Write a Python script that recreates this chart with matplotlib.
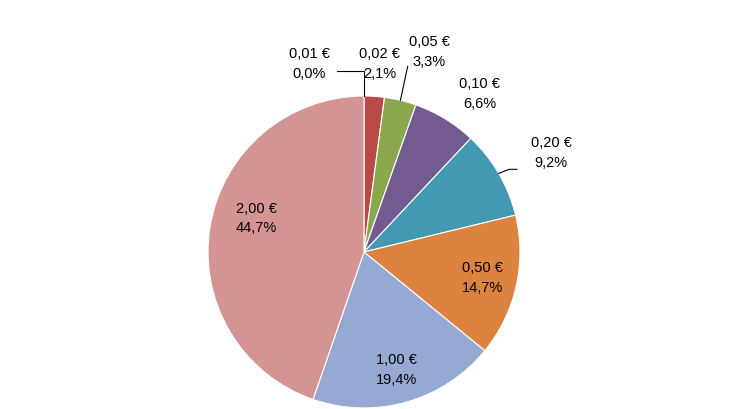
import numpy as np
import matplotlib.pyplot as plt

coins = ["0,01 €", "0,02 €", "0,05 €", "0,10 €", "0,20 €", "0,50 €", "1,00 €", "2,00 €"]
shares = [0.0, 2.1, 3.3, 6.6, 9.2, 14.7, 19.4, 44.7]
colors = ["#4F81BD", "#B94A48", "#8BA84F", "#735B92", "#4399B1", "#DC843F", "#95A9D2", "#D39493"]

# label positions (data units, radius 1) and whether a leader line is drawn
label_pos = [(-0.35, 1.21), (0.10, 1.21), (0.42, 1.29), (0.74, 1.02),
             (1.20, 0.64), (0.76, -0.16), (0.21, -0.75), (-0.69, 0.22)]
leader = [True, False, True, False, True, False, False, False]

fig = plt.figure(figsize=(7.3, 4.1), dpi=100)
ax = fig.add_axes([0, 0, 1, 1])
wedges, _ = ax.pie(shares, colors=colors, startangle=90, counterclock=False,
                   wedgeprops=dict(edgecolor="white", linewidth=0.8))

total = sum(shares)
cum = np.cumsum([0] + shares)
for i, (c, s) in enumerate(zip(coins, shares)):
    mid = 90 - 360 * (cum[i] + s / 2) / total
    ex, ey = np.cos(np.radians(mid)), np.sin(np.radians(mid))
    lx, ly = label_pos[i]
    if leader[i]:
        if i == 4:
            ax.plot([lx - 0.22, lx - 0.27, ex], [ly - 0.11, ly - 0.11, ey], color="black", lw=0.8)
        else:
            ax.plot([lx + 0.18, ex, ex], [ly - 0.05, ly - 0.05, ey], color="black", lw=0.8) if i == 0 else \
                ax.plot([lx - 0.14, ex], [ly - 0.1, ey], color="black", lw=0.8)
    ax.text(lx, ly, f"{c}\n{s:.1f}%".replace(".", ","), ha="center", va="center",
            fontsize=10.5, family="Liberation Sans", linespacing=1.5)

ax.set_xlim(-364 / 156, 366 / 156)
ax.set_ylim(-157 / 156, 253 / 156)
ax.set_aspect("equal")
ax.axis("off")
fig.savefig("out.png", dpi=100)
